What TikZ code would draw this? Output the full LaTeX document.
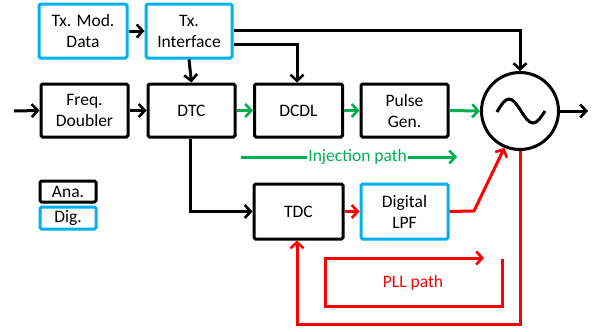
\documentclass[tikz,border=0pt]{standalone}
\usepackage{fontspec}
\setmainfont{Carlito}
\usetikzlibrary{arrows.meta}
\definecolor{cy}{HTML}{00B0F0}
\definecolor{gr}{HTML}{00B050}
\definecolor{rd}{HTML}{FF0000}
\tikzset{
  blk/.style={draw=black, line width=3pt, rounded corners=1.5pt, align=center, inner sep=0pt,
    font=\fontsize{17.5}{21}\selectfont},
  dblk/.style={blk, draw=cy},
  wire/.style={line width=3pt, -{Straight Barb[length=6pt,width=13pt,line width=2.6pt]}},
  bwire/.style={wire, draw=black},
  gwire/.style={wire, draw=gr},
  rwire/.style={wire, draw=rd},
  lbl/.style={font=\fontsize{17.5}{21}\selectfont, inner sep=1pt}
}
\begin{document}
\begin{tikzpicture}[x=1pt,y=-1pt]
\useasboundingbox (0,0) rectangle (595,332);
% blocks
\node[dblk, minimum width=88pt, minimum height=54pt] (txmod) at (83,31) {Tx. Mod.\\Data};
\node[dblk, minimum width=86pt, minimum height=54pt] (txif) at (189,31) {Tx.\\Interface};
\node[blk, minimum width=87pt, minimum height=53pt] (freq) at (84.5,110.5) {Freq.\\Doubler};
\node[blk, minimum width=87pt, minimum height=53pt] (dtc) at (191.5,110.5) {DTC};
\node[blk, minimum width=88pt, minimum height=53pt] (dcdl) at (298.5,110.5) {DCDL};
\node[blk, minimum width=87pt, minimum height=53pt] (pulse) at (404.5,110.5) {Pulse\\Gen.};
\node[draw, circle, line width=3pt, minimum size=77pt, inner sep=0pt] (osc) at (520,111) {};
\node[blk, minimum width=89pt, minimum height=55pt] (tdc) at (298.5,211.5) {TDC};
\node[dblk, minimum width=87pt, minimum height=55pt] (lpf) at (404.5,211.5) {Digital\\LPF};
\node[blk, minimum width=56pt, minimum height=21pt] (ana) at (68,191.5) {Ana.};
\node[dblk, minimum width=56pt, minimum height=22pt] (dig) at (68,218) {Dig.};
% sine inside oscillator
\draw[line width=3pt] (497,112) sin (509,99) cos (521,111) sin (533,123) cos (545,111);
% coordinates
\coordinate (in) at (14,111);
\coordinate (out) at (588,111);
\coordinate (lpfk) at (474,211);
\coordinate (loopc) at (520,324);
\coordinate (injs) at (241,157);
\coordinate (inje) at (457,157);
\coordinate (p1) at (502,259);
\coordinate (p2) at (502,306);
\coordinate (p3) at (325,306);
\coordinate (p4) at (325,258);
\coordinate (p5) at (484,258);
% black connectors
\draw[bwire] (in) -- (freq.west);
\draw[bwire] (freq.east) -- (dtc.west);
\draw[bwire] (txmod.east) -- (txif.west);
\draw[bwire] (txif.south) -- (dtc.north);
\draw[bwire] ([yshift=1pt]txif.east) -| (osc.north);
\draw[bwire] ([yshift=-13pt]txif.east) -| ([xshift=-1.5pt]dcdl.north);
\draw[bwire] ([xshift=-1.5pt]dtc.south) |- (tdc.west);
\draw[bwire] (osc.east) -- (out);
% green connectors
\draw[gwire] (dtc.east) -- (dcdl.west);
\draw[gwire] (dcdl.east) -- (pulse.west);
\draw[gwire] (pulse.east) -- (osc.west);
\draw[gwire] (injs) -- node[lbl, fill=white, text=gr, pos=0.54] (injl) {Injection path} (inje);
% red connectors
\draw[rwire] (tdc.east) -- (lpf.west);
\draw[rwire] (lpf.east) -- (lpfk) -- (osc.247);
\draw[rwire] (osc.south) -- (loopc) -| ([xshift=-1.5pt]tdc.south);
\draw[rwire] (p1) -- (p2) -- (p3) -- (p4) -- (p5);
\node[lbl, text=rd] (plll) at (413,283) {PLL path};
\end{tikzpicture}
\end{document}
